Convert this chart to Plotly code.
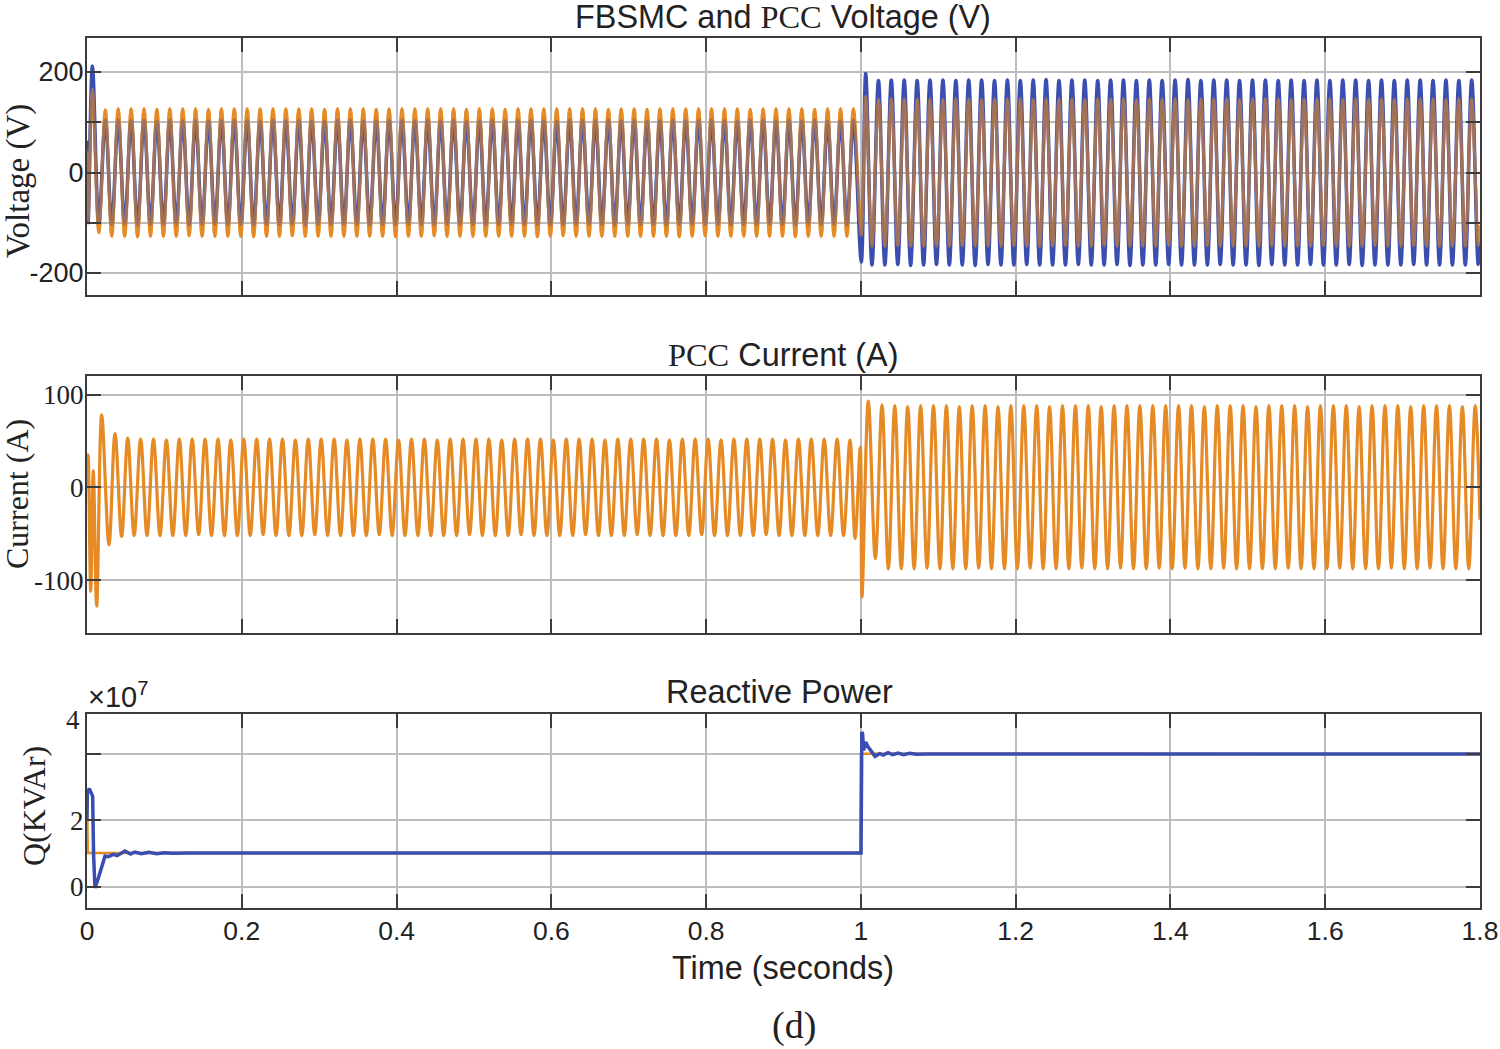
import plotly.graph_objects as go

# values, one sample per half cycle of the waveform
t_voltage = [0.0, 0.0008, 0.0015,
    0.007, 0.0153, 0.0237, 0.032, 0.0403, 0.0487, 0.057, 0.0653, 0.0737, 0.082, 0.0903, 0.0987,
    0.107, 0.1153, 0.1237, 0.132, 0.1403, 0.1487, 0.157, 0.1653, 0.1737, 0.182, 0.1903, 0.1987,
    0.207, 0.2153, 0.2237, 0.232, 0.2403, 0.2487, 0.257, 0.2653, 0.2737, 0.282, 0.2903, 0.2987,
    0.307, 0.3153, 0.3237, 0.332, 0.3403, 0.3487, 0.357, 0.3653, 0.3737, 0.382, 0.3903, 0.3987,
    0.407, 0.4153, 0.4237, 0.432, 0.4403, 0.4487, 0.457, 0.4653, 0.4737, 0.482, 0.4903, 0.4987,
    0.507, 0.5153, 0.5237, 0.532, 0.5403, 0.5487, 0.557, 0.5653, 0.5737, 0.582, 0.5903, 0.5987,
    0.607, 0.6153, 0.6237, 0.632, 0.6403, 0.6487, 0.657, 0.6653, 0.6737, 0.682, 0.6903, 0.6987,
    0.707, 0.7153, 0.7237, 0.732, 0.7403, 0.7487, 0.757, 0.7653, 0.7737, 0.782, 0.7903, 0.7987,
    0.807, 0.8153, 0.8237, 0.832, 0.8403, 0.8487, 0.857, 0.8653, 0.8737, 0.882, 0.8903, 0.8987,
    0.907, 0.9153, 0.9237, 0.932, 0.9403, 0.9487, 0.957, 0.9653, 0.9737, 0.982, 0.9903, 1.0005,
    1.0062, 1.0143, 1.0227, 1.031, 1.0393, 1.0477, 1.056, 1.0643, 1.0727, 1.081, 1.0893, 1.0977, 1.106,
    1.1143, 1.1227, 1.131, 1.1393, 1.1477, 1.156, 1.1643, 1.1727, 1.181, 1.1893, 1.1977, 1.206,
    1.2143, 1.2227, 1.231, 1.2393, 1.2477, 1.256, 1.2643, 1.2727, 1.281, 1.2893, 1.2977, 1.306,
    1.3143, 1.3227, 1.331, 1.3393, 1.3477, 1.356, 1.3643, 1.3727, 1.381, 1.3893, 1.3977, 1.406,
    1.4143, 1.4227, 1.431, 1.4393, 1.4477, 1.456, 1.4643, 1.4727, 1.481, 1.4893, 1.4977, 1.506,
    1.5143, 1.5227, 1.531, 1.5393, 1.5477, 1.556, 1.5643, 1.5727, 1.581, 1.5893, 1.5977, 1.606,
    1.6143, 1.6227, 1.631, 1.6393, 1.6477, 1.656, 1.6643, 1.6727, 1.681, 1.6893, 1.6977, 1.706,
    1.7143, 1.7227, 1.731, 1.7393, 1.7477, 1.756, 1.7643, 1.7727, 1.781, 1.7893, 1.7977, 1.8]

v_pcc = [0, 40, -95,
    166, -120, 125, -127, 127, -127, 127, -128, 127, -127, 126, -127,
    127, -127, 127, -126, 127, -127, 126, -127, 127, -127, 127, -127,
    127, -128, 127, -127, 127, -127, 127, -126, 127, -127, 127, -127,
    126, -127, 127, -127, 127, -127, 127, -127, 126, -127, 127, -128,
    127, -127, 127, -127, 127, -126, 127, -127, 127, -127, 126, -127,
    127, -127, 127, -127, 126, -127, 127, -127, 127, -128, 127, -127,
    127, -126, 127, -127, 127, -127, 127, -127, 126, -127, 127, -127,
    127, -127, 126, -127, 127, -127, 127, -128, 127, -127, 127, -126,
    127, -127, 127, -127, 127, -127, 126, -127, 127, -127, 127, -127,
    127, -128, 127, -127, 126, -127, 127, -127, 127, -127, 127, -125,
    152, -147, 146, -147, 147, -146, 147, -147, 146, -147, 147, -147, 146,
    -147, 147, -146, 147, -147, 146, -147, 147, -147, 147, -146, 147,
    -147, 146, -147, 147, -147, 147, -146, 147, -147, 146, -147, 147,
    -146, 147, -147, 147, -147, 146, -147, 147, -147, 147, -146, 147,
    -147, 146, -147, 147, -146, 147, -147, 147, -147, 146, -147, 147,
    -147, 147, -146, 147, -147, 146, -147, 147, -147, 147, -146, 147,
    -147, 146, -147, 147, -147, 147, -146, 147, -147, 146, -147, 147,
    -146, 147, -147, 147, -147, 146, -147, 147, -147, 147, -146, -105]

v_fbsmc = [0, 60, -100,
    212, -100, 104, -103, 104, -102, 103, -104, 104, -103, 102, -103,
    104, -102, 103, -104, 104, -103, 103, -102, 104, -103, 104, -103,
    103, -104, 102, -103, 104, -103, 103, -102, 104, -104, 103, -103,
    102, -103, 104, -103, 104, -102, 103, -104, 103, -103, 104, -103,
    104, -102, 103, -103, 104, -104, 103, -102, 104, -103, 102, -103,
    103, -104, 104, -103, 103, -102, 104, -103, 104, -103, 103, -104,
    102, -103, 104, -103, 104, -102, 103, -103, 104, -104, 103, -102,
    104, -103, 102, -103, 103, -104, 104, -103, 103, -102, 104, -103,
    104, -103, 103, -104, 102, -103, 104, -103, 104, -102, 103, -103,
    104, -104, 103, -102, 104, -103, 102, -103, 103, -104, 104, -178,
    197, -184, 183, -184, 184, -183, 184, -185, 183, -184, 184, -183, 184,
    -184, 183, -184, 184, -185, 184, -183, 183, -184, 184, -184, 183,
    -183, 184, -184, 185, -184, 183, -184, 184, -183, 184, -184, 183,
    -184, 184, -183, 184, -185, 183, -184, 184, -184, 183, -183, 184,
    -184, 185, -184, 183, -184, 184, -183, 184, -184, 183, -184, 184,
    -185, 184, -183, 183, -184, 184, -184, 183, -183, 184, -184, 183,
    -184, 184, -183, 184, -185, 183, -184, 184, -184, 183, -184, 184,
    -183, 184, -184, 183, -184, 184, -184, 183, -184, 184, -183, -140]

t_current = [0.0, 0.0015, 0.0048, 0.0081, 0.0125, 0.019, 0.0284, 0.0362, 0.0448,
    0.0526, 0.0609, 0.0693, 0.0776, 0.0859, 0.0943, 0.1026, 0.1109, 0.1193, 0.1276, 0.1359, 0.1443,
    0.1526, 0.1609, 0.1693, 0.1776, 0.1859, 0.1943, 0.2026, 0.2109, 0.2193, 0.2276, 0.2359, 0.2443,
    0.2526, 0.2609, 0.2693, 0.2776, 0.2859, 0.2943, 0.3026, 0.3109, 0.3193, 0.3276, 0.3359, 0.3443,
    0.3526, 0.3609, 0.3693, 0.3776, 0.3859, 0.3943, 0.4026, 0.4109, 0.4193, 0.4276, 0.4359, 0.4443,
    0.4526, 0.4609, 0.4693, 0.4776, 0.4859, 0.4943, 0.5026, 0.5109, 0.5193, 0.5276, 0.5359, 0.5443,
    0.5526, 0.5609, 0.5693, 0.5776, 0.5859, 0.5943, 0.6026, 0.6109, 0.6193, 0.6276, 0.6359, 0.6443,
    0.6526, 0.6609, 0.6693, 0.6776, 0.6859, 0.6943, 0.7026, 0.7109, 0.7193, 0.7276, 0.7359, 0.7443,
    0.7526, 0.7609, 0.7693, 0.7776, 0.7859, 0.7943, 0.8026, 0.8109, 0.8193, 0.8276, 0.8359, 0.8443,
    0.8526, 0.8609, 0.8693, 0.8776, 0.8859, 0.8943, 0.9026, 0.9109, 0.9193, 0.9276, 0.9359, 0.9443,
    0.9526, 0.9609, 0.9693, 0.9776, 0.9859, 0.9925, 0.9992, 1.0014, 1.0096, 1.0187, 1.0273,
    1.0355, 1.0438, 1.0522, 1.0605, 1.0688, 1.0772, 1.0855, 1.0938, 1.1022, 1.1105, 1.1188, 1.1272,
    1.1355, 1.1438, 1.1522, 1.1605, 1.1688, 1.1772, 1.1855, 1.1938, 1.2022, 1.2105, 1.2188, 1.2272,
    1.2355, 1.2438, 1.2522, 1.2605, 1.2688, 1.2772, 1.2855, 1.2938, 1.3022, 1.3105, 1.3188, 1.3272,
    1.3355, 1.3438, 1.3522, 1.3605, 1.3688, 1.3772, 1.3855, 1.3938, 1.4022, 1.4105, 1.4188, 1.4272,
    1.4355, 1.4438, 1.4522, 1.4605, 1.4688, 1.4772, 1.4855, 1.4938, 1.5022, 1.5105, 1.5188, 1.5272,
    1.5355, 1.5438, 1.5522, 1.5605, 1.5688, 1.5772, 1.5855, 1.5938, 1.6022, 1.6105, 1.6188, 1.6272,
    1.6355, 1.6438, 1.6522, 1.6605, 1.6688, 1.6772, 1.6855, 1.6938, 1.7022, 1.7105, 1.7188, 1.7272,
    1.7355, 1.7438, 1.7522, 1.7605, 1.7688, 1.7772, 1.7855, 1.7938, 1.8]

i_pcc = [0, 35, -112, 18, -128, 78, -62, 58, -53,
    53, -52, 52, -52, 52, -52, 51, -52, 52, -52, 52, -51,
    52, -52, 52, -52, 51, -52, 52, -52, 52, -51, 52, -52,
    52, -52, 51, -52, 52, -51, 52, -52, 52, -52, 51, -52,
    52, -52, 52, -51, 52, -52, 51, -52, 52, -52, 52, -52,
    51, -52, 52, -52, 52, -51, 52, -52, 52, -52, 51, -52,
    52, -51, 52, -52, 52, -52, 51, -52, 52, -52, 52, -51,
    52, -52, 51, -52, 52, -52, 52, -51, 52, -52, 52, -52,
    51, -52, 52, -52, 52, -51, 52, -52, 51, -52, 52, -52,
    52, -52, 52, -51, 52, -52, 51, -52, 52, -52, 52, -52,
    52, -52, 52, -52, 51, -55, 43, -118, 93, -77, 89,
    -88, 88, -88, 87, -88, 88, -87, 88, -88, 88, -88, 87,
    -88, 88, -87, 88, -88, 87, -88, 88, -88, 88, -87, 88,
    -88, 87, -88, 88, -88, 88, -87, 88, -88, 87, -88, 88,
    -87, 88, -88, 88, -88, 88, -87, 88, -88, 88, -87, 88,
    -88, 87, -88, 88, -87, 88, -88, 88, -88, 87, -88, 88,
    -88, 88, -87, 88, -88, 87, -88, 88, -88, 88, -87, 88,
    -88, 87, -88, 88, -88, 88, -87, 88, -88, 87, -88, 88,
    -87, 88, -88, 88, -88, 87, -88, 88, -35]

t_q_ref = [0.0, 0.0005, 0.001, 0.9995, 1.0, 1.8]
q_ref = [2.0, 2.0, 1.02, 1.02, 4.0, 3.99]

t_q = [0.0, 0.0005, 0.003, 0.0073, 0.0085, 0.0103, 0.0151, 0.019, 0.0233, 0.0275, 0.034, 0.039,
    0.049, 0.0563, 0.0617, 0.07, 0.08, 0.09, 0.1, 0.11, 0.13, 0.2, 0.4, 0.6, 0.8, 0.9995,
    1.0002, 1.0012, 1.0022, 1.0035, 1.0062, 1.0095, 1.0135, 1.0183, 1.024, 1.029, 1.035, 1.041,
    1.048, 1.055, 1.063, 1.072, 1.085, 1.2, 1.4, 1.6, 1.8]
q_inverter = [2.0, 2.85, 2.95, 2.72, 0.98, -0.03, 0.3, 0.6, 0.93, 0.91, 0.98, 0.94,
    1.08, 0.99, 1.05, 1.0, 1.04, 1.0, 1.03, 1.01, 1.02, 1.02, 1.02, 1.02, 1.02, 1.02,
    1.02, 4.65, 4.6, 4.1, 4.35, 4.2, 4.05, 3.92, 4.0, 3.96, 4.03, 3.97,
    4.02, 3.97, 4.01, 3.98, 3.99, 3.99, 3.99, 3.99, 3.99]

x_ticks = [0, 0.2, 0.4, 0.6, 0.8, 1, 1.2, 1.4, 1.6, 1.8]
x_labels = ["0", "0.2", "0.4", "0.6", "0.8", "1", "1.2", "1.4", "1.6", "1.8"]

BLUE = "#3a4db0"
ORANGE = "#e58a24"
SANS = "Liberation Sans"
SERIF = "Liberation Serif"
W = 1500
H = 1049

fig = go.Figure()
# solid orange under the blue so the tips stay saturated, see-through copy on top browns the overlap
fig.add_trace(go.Scatter(x=t_voltage, y=v_pcc, mode="lines", xaxis="x", yaxis="y",
                         line=dict(color=ORANGE, width=3, shape="spline", smoothing=1)))
fig.add_trace(go.Scatter(x=t_voltage, y=v_fbsmc, mode="lines", xaxis="x", yaxis="y",
                         line=dict(color=BLUE, width=3.5, shape="spline", smoothing=1)))
fig.add_trace(go.Scatter(x=t_voltage, y=v_pcc, mode="lines", xaxis="x", yaxis="y", opacity=0.6,
                         line=dict(color=ORANGE, width=3, shape="spline", smoothing=1)))
fig.add_trace(go.Scatter(x=t_current, y=i_pcc, mode="lines", xaxis="x2", yaxis="y2",
                         line=dict(color=ORANGE, width=3.2, shape="spline", smoothing=1)))
fig.add_trace(go.Scatter(x=t_q_ref, y=q_ref, mode="lines", xaxis="x3", yaxis="y3",
                         line=dict(color=ORANGE, width=2.5)))
fig.add_trace(go.Scatter(x=t_q, y=q_inverter, mode="lines", xaxis="x3", yaxis="y3",
                         line=dict(color=BLUE, width=3.5)))


def x_axis(anchor, labels):
    return dict(domain=[87 / W, 1480 / W], range=[0, 1.8], anchor=anchor, tickmode="array",
                tickvals=x_ticks, ticktext=x_labels, showticklabels=labels, automargin=False,
                showgrid=True, gridcolor="#bdbdbd", gridwidth=1.5, zeroline=False,
                showline=True, linecolor="#3c3c3c", linewidth=2, mirror="ticks",
                ticks="inside", ticklen=14, tickwidth=2, tickcolor="#3c3c3c", ticklabelstandoff=-2,
                tickfont=dict(family=SANS, size=26.5, color="#222"))


def y_axis(anchor, top, bottom, yrange, vals, text, extra, font):
    return dict(domain=[1 - bottom / H, 1 - top / H], range=yrange, anchor=anchor,
                tickmode="array", tickvals=vals, ticktext=text, automargin=False,
                minor=dict(tickmode="array", tickvals=extra, showgrid=True, gridcolor="#bdbdbd", gridwidth=1.5,
                           ticks="inside", ticklen=14, tickwidth=2, tickcolor="#3c3c3c"),
                showgrid=True, gridcolor="#bdbdbd", gridwidth=1.5,
                zeroline=False, showline=True, linecolor="#3c3c3c", linewidth=2, mirror="ticks",
                ticks="inside", ticklen=14, tickwidth=2, tickcolor="#3c3c3c", ticklabelstandoff=-4,
                tickfont=dict(family=font, size=27, color="#222"))


def caption(text, x, y, size=32.4, family=SANS, angle=0):
    return dict(text=text, x=x / W, y=1 - y / H, xref="paper", yref="paper", showarrow=False,
                xanchor="center", yanchor="middle", textangle=angle,
                font=dict(family=family, size=size, color="#222"))


pcc = '<span style="font-family:Liberation Serif">PCC</span>'

fig.update_layout(
    width=W, height=H, autosize=False, showlegend=False,
    margin=dict(l=0, r=0, t=0, b=0), paper_bgcolor="white", plot_bgcolor="white",
    xaxis=x_axis("y", False),
    xaxis2=x_axis("y2", False),
    xaxis3=x_axis("y3", True),
    yaxis=y_axis("x", 38, 295, [-243.8, 267.7], [-200, 0, 200], ["-200", "0", "200"], [-100, 100], SANS),
    yaxis2=y_axis("x2", 376, 633, [-157, 120], [-100, 0, 100], ["-100", "0", "100"], [], SERIF),
    yaxis3=y_axis("x3", 714, 908, [-0.63, 5.19], [0, 2], ["0", "2"], [4], SERIF),
    annotations=[
        caption("FBSMC and " + pcc + " Voltage (V)", 783, 17),
        caption(pcc + " Current (A)", 783, 355),
        caption("Reactive Power", 779, 692),
        caption("×10<sup>7</sup>", 118, 695, size=29),
        caption("4", 73, 720, size=27, family=SERIF),
        caption("Time (seconds)", 783, 968),
        caption("(d)", 794, 1025, size=38, family=SERIF),
        caption("Voltage (V)", 18, 181, size=33, family=SERIF, angle=-90),
        caption("Current (A)", 17, 494, size=32, family=SERIF, angle=-90),
        caption("Q(KVAr)", 34, 806, size=32, family=SERIF, angle=-90),
    ],
)

# drop the default 8px body margin so the figure sits at the window corner
fig.write_html("out.html", config=dict(displayModeBar=False),
               post_script="document.body.style.margin='0';")
